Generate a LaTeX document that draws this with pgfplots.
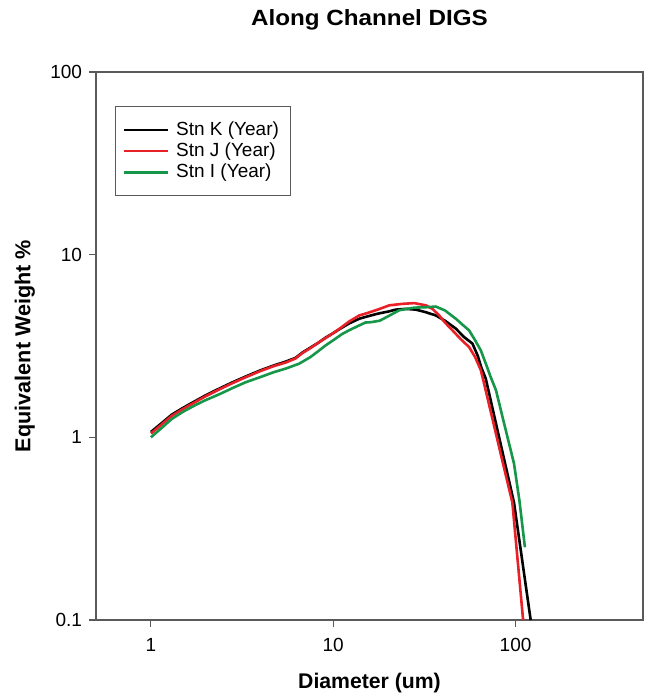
\documentclass[border=0pt]{standalone}
\usepackage{fontspec}
\setmainfont{Liberation Sans}
\usepackage{pgfplots}
\pgfplotsset{compat=1.18}
\usetikzlibrary{calc}

\definecolor{stnred}{RGB}{232,32,40}
\definecolor{stngreen}{RGB}{22,150,72}
\definecolor{axgray}{RGB}{90,90,90}

\begin{document}
\begin{tikzpicture}
\begin{axis}[
    scale only axis,
    width=273.5pt,
    height=274pt,
    xmode=log, ymode=log,
    xmin=0.5, xmax=500,
    ymin=0.1, ymax=100,
    xtick={1,10,100}, xticklabels={1,10,100},
    ytick={0.1,1,10,100}, yticklabels={0.1,1,10,100},
    xminorticks=false, yminorticks=false,
    tick pos=left,
    tick align=outside,
    major tick length=3.5pt,
    axis line style={axgray, line width=0.6pt},
    every tick/.style={axgray, line width=0.6pt},
    ticklabel style={font=\fontsize{9.5}{11}\selectfont},
    xticklabel style={yshift=-2pt},
    /pgf/number format/assume math mode=true,
    every axis title shift=0pt,
    title={\addfontfeatures{FakeStretch=1.1}\bfseries Along Channel DIGS},
    title style={font=\fontsize{11}{13}\selectfont, at={(axis description cs:0.5,1.095)}, anchor=center, inner sep=0pt},
    xlabel={\bfseries Diameter (um)},
    xlabel style={font=\fontsize{10.6}{12}\selectfont, at={(axis description cs:0.5,-0.115)}, anchor=center, inner sep=0pt},
    ylabel={\bfseries Equivalent Weight \%},
    ylabel style={font=\fontsize{10.8}{12}\selectfont, at={(axis description cs:-0.13,0.5)}, anchor=center, inner sep=0pt},
    legend cell align=left,
    legend image code/.code={
        \draw[#1, line width=1.3pt] (1.5pt,0pt) -- (23.5pt,0pt);
        \path (25pt,0pt);
    },
    legend style={
        at={(axis description cs:0.035,0.938)}, anchor=north west,
        draw=axgray,
        font=\fontsize{9.5}{11}\selectfont,
        inner xsep=3.5pt, inner ysep=6.5pt,
        nodes={inner xsep=2pt, inner ysep=1.1pt},
    },
]
% Stn K
\addplot[black, line width=1.3pt] coordinates {
(1,1.07) (1.15,1.2) (1.3,1.33) (1.5,1.45) (1.75,1.58) (2,1.7) (2.4,1.86)
(2.8,2.0) (3.3,2.15) (4,2.33) (4.7,2.47) (5.5,2.6) (6.2,2.72) (6.8,2.92)
(7.5,3.1) (8.3,3.3) (9.1,3.52) (10,3.72) (11,3.95) (12.2,4.2) (13.9,4.46)
(15.5,4.6) (17.5,4.75) (20,4.88) (22,5.0) (25,5.05) (28.4,5.0) (32,4.85)
(36.5,4.65) (41,4.35) (47,3.94) (52,3.55) (58,3.26) (62,2.8) (65,2.4)
(68.6,2.1) (80,1.07) (98,0.44) (121,0.1)
};
\addlegendentry{Stn K (Year)}
% Stn J
\addplot[stnred, line width=1.3pt] coordinates {
(1,1.05) (1.15,1.18) (1.3,1.31) (1.5,1.43) (1.75,1.56) (2,1.68) (2.4,1.84)
(2.8,1.98) (3.3,2.13) (4,2.31) (4.7,2.45) (5.5,2.57) (6.2,2.7) (6.8,2.9)
(7.5,3.08) (8.3,3.3) (9.1,3.5) (10,3.72) (11,3.98) (12.2,4.3) (13.9,4.65)
(15.5,4.8) (17.5,5.0) (20.3,5.28) (24,5.38) (27.8,5.43) (32.2,5.28) (35,5.05)
(38.1,4.65) (41,4.25) (45.1,3.85) (50,3.45) (55.6,3.12) (60,2.75) (64.5,2.33)
(67.2,1.97) (75,1.24) (85,0.73) (96,0.44) (110,0.1)
};
\addlegendentry{Stn J (Year)}
% Stn I
\addplot[stngreen, line width=1.3pt] coordinates {
(1,1.0) (1.15,1.13) (1.3,1.26) (1.5,1.38) (1.75,1.5) (2,1.6) (2.4,1.73)
(2.8,1.86) (3.3,2.0) (4,2.14) (4.7,2.27) (5.5,2.38) (6.5,2.53) (7.5,2.75)
(8.3,2.97) (9.1,3.19) (10,3.4) (11.2,3.68) (12.5,3.9) (13.9,4.1) (15,4.25)
(16.1,4.27) (18,4.35) (20,4.6) (23,4.96) (27.8,5.13) (32,5.15) (36.5,5.2)
(41,4.95) (47,4.46) (51,4.15) (55.6,3.85) (60,3.4) (64.5,2.99) (69,2.5)
(73,2.14) (78.1,1.81) (85,1.28) (98,0.72) (105,0.45) (112.5,0.25)
};
\addlegendentry{Stn I (Year)}
\end{axis}
\path ($(current axis.south west)+(-48pt,-38.5pt)$) rectangle ($(current axis.north east)+(1.5pt,36pt)$);
\end{tikzpicture}
\end{document}
